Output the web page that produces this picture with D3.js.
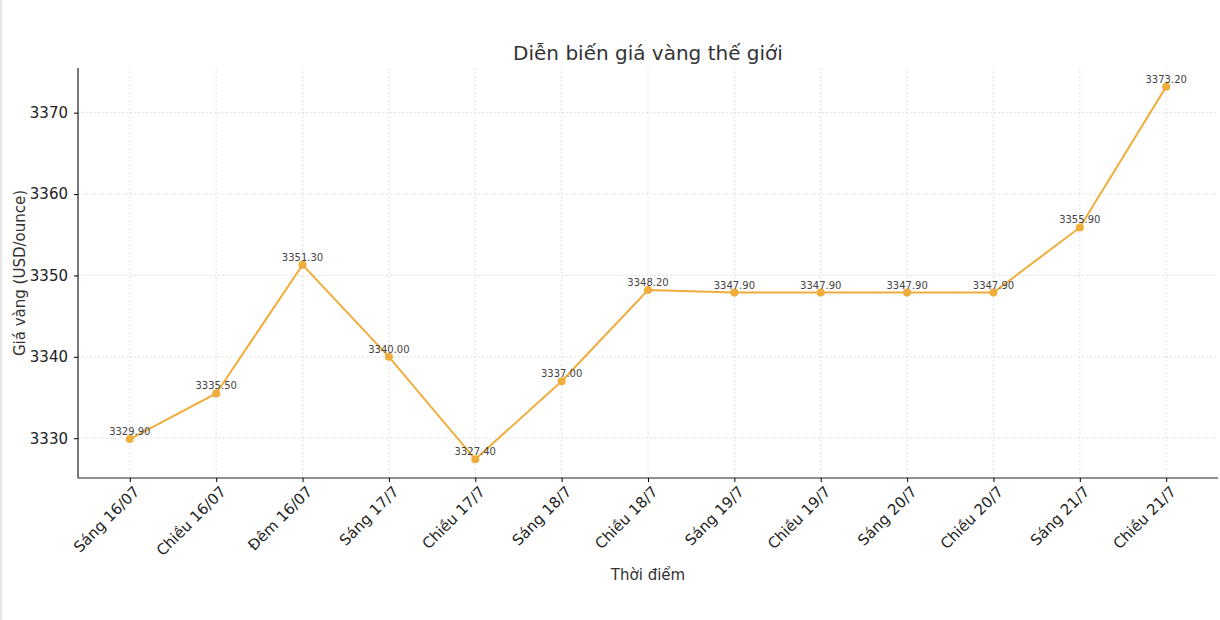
<!DOCTYPE html>
<html><head><meta charset="utf-8">
<script src="https://cdn.jsdelivr.net/npm/d3@7"></script>
<style>body{margin:0;background:#fff;font-family:"DejaVu Sans",sans-serif}</style>
</head><body><div id="chart"></div>
<script>
var labels = ["Sáng 16/07","Chiều 16/07","Đêm 16/07","Sáng 17/7","Chiều 17/7","Sáng 18/7","Chiều 18/7","Sáng 19/7","Chiều 19/7","Sáng 20/7","Chiều 20/7","Sáng 21/7","Chiều 21/7"];
var prices = [3329.9,3335.5,3351.3,3340.0,3327.4,3337.0,3348.2,3347.9,3347.9,3347.9,3347.9,3355.9,3373.2];
var yTicks = [3330,3340,3350,3360,3370];

var W = 1220, H = 620, L = 78, R = 1218, T = 68, B = 478;
var svg = d3.select("#chart").append("svg").attr("width", W).attr("height", H)
  .style("font-family","'DejaVu Sans',sans-serif");
svg.append("rect").attr("x",0).attr("y",0).attr("width",2).attr("height",H).attr("fill","#e6e6e6");

var step = (R - L) / (labels.length - 1 + 1.2);
var x = d3.scalePoint().domain(labels).range([L + 0.6*step, R - 0.6*step]);
var y = d3.scaleLinear().domain([3325.11, 3375.49]).range([B, T]);

var grid = svg.append("g").attr("stroke","#d4d4d4").attr("stroke-dasharray","2,2").attr("stroke-width",0.7);
labels.forEach(function(l){ grid.append("line").attr("x1",x(l)).attr("x2",x(l)).attr("y1",T).attr("y2",B); });
yTicks.forEach(function(v){ grid.append("line").attr("x1",L).attr("x2",R).attr("y1",y(v)).attr("y2",y(v)); });

var xa = svg.append("g").attr("transform","translate(0,"+B+")")
  .call(d3.axisBottom(x).tickSize(4).tickPadding(6).tickSizeOuter(0));
xa.attr("font-family",null);
xa.select(".domain").attr("stroke","#222").attr("stroke-width",1.2).attr("d","M"+L+",0H"+R);
xa.selectAll("text").attr("font-size",15).attr("fill","#222")
  .attr("text-anchor","end").attr("transform","rotate(-45)").attr("dx","-0.2em").attr("dy","0.5em");

var ya = svg.append("g").attr("transform","translate("+L+",0)")
  .call(d3.axisLeft(y).tickValues(yTicks).tickFormat(d3.format("d")).tickSize(4).tickPadding(6).tickSizeOuter(0));
ya.attr("font-family",null);
ya.select(".domain").attr("stroke","#222").attr("stroke-width",1.2).attr("d","M0,"+B+"V"+T);
ya.selectAll("text").attr("font-size",15).attr("fill","#222");

var line = d3.line().x(function(d,i){return x(labels[i]);}).y(function(d){return y(d);});
svg.append("path").datum(prices).attr("d",line).attr("fill","none").attr("stroke","#f0ad3c").attr("stroke-width",2);
svg.selectAll("circle.pt").data(prices).enter().append("circle")
  .attr("cx",function(d,i){return x(labels[i]);}).attr("cy",function(d){return y(d);})
  .attr("r",4).attr("fill","#f0ad3c");
svg.selectAll("text.lbl").data(prices).enter().append("text")
  .attr("x",function(d,i){return x(labels[i]);}).attr("y",function(d){return y(d)-4;})
  .attr("text-anchor","middle").attr("font-size",10).attr("fill","#444")
  .text(function(d){return d.toFixed(2);});

svg.append("text").attr("x",(L+R)/2).attr("y",60).attr("text-anchor","middle")
  .attr("font-size",20).attr("fill","#333").text("Diễn biến giá vàng thế giới");
svg.append("text").attr("x",(L+R)/2).attr("y",580).attr("text-anchor","middle")
  .attr("font-size",15).attr("fill","#333").text("Thời điểm");
svg.append("text").attr("transform","translate(25,"+((T+B)/2)+") rotate(-90)").attr("text-anchor","middle")
  .attr("font-size",15).attr("fill","#333").text("Giá vàng (USD/ounce)");
</script></body></html>
